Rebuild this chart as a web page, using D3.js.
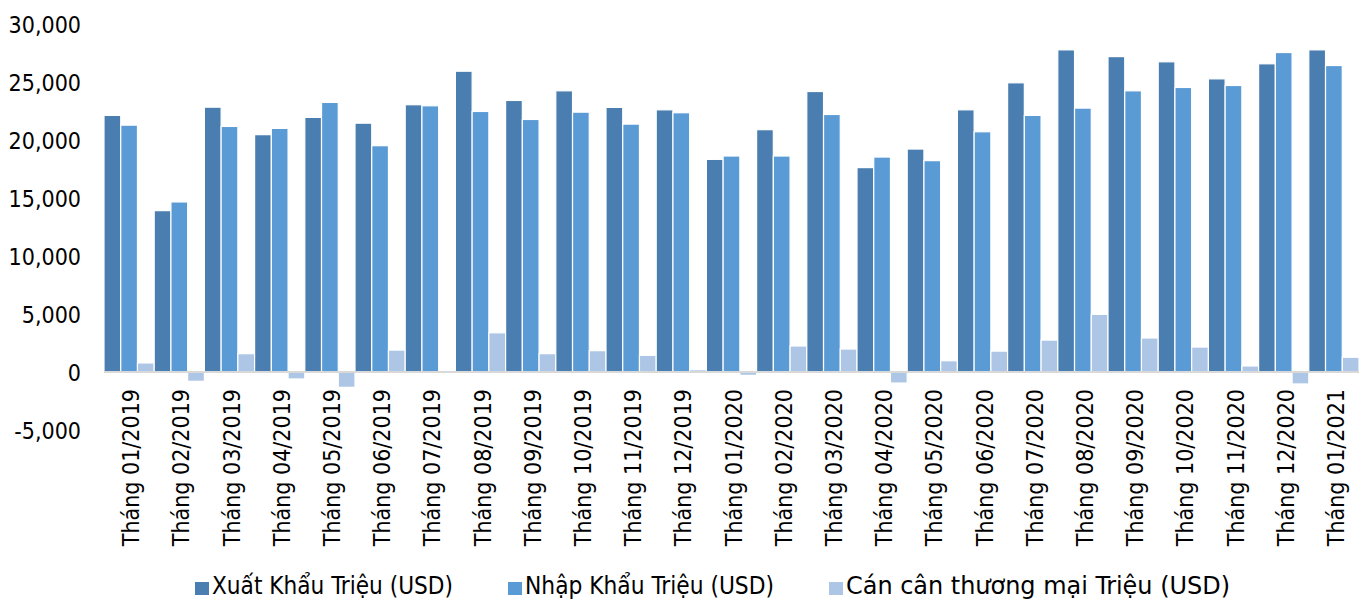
<!DOCTYPE html>
<html>
<head>
<meta charset="utf-8">
<script src="https://cdn.jsdelivr.net/npm/d3@7"></script>
<style>
  html, body { margin: 0; padding: 0; background: #ffffff; }
  svg { display: block; }
  text { font-family: "DejaVu Sans Condensed", "DejaVu Sans", sans-serif; font-stretch: condensed; fill: #000; }
</style>
</head>
<body>
<svg id="chart" width="1364" height="602"></svg>
<script>
// Monthly trade figures, million USD
const months = [
  "Tháng 01/2019", "Tháng 02/2019", "Tháng 03/2019", "Tháng 04/2019", "Tháng 05/2019",
  "Tháng 06/2019", "Tháng 07/2019", "Tháng 08/2019", "Tháng 09/2019", "Tháng 10/2019",
  "Tháng 11/2019", "Tháng 12/2019", "Tháng 01/2020", "Tháng 02/2020", "Tháng 03/2020",
  "Tháng 04/2020", "Tháng 05/2020", "Tháng 06/2020", "Tháng 07/2020", "Tháng 08/2020",
  "Tháng 09/2020", "Tháng 10/2020", "Tháng 11/2020", "Tháng 12/2020", "Tháng 01/2021"
];
const exportsUSD = [22120, 13910, 22830, 20460, 21950, 21450, 23040, 25930, 23410, 24240,
                    22810, 22600, 18330, 20890, 24180, 17620, 19220, 22600, 24930, 27770,
                    27190, 26740, 25270, 26570, 27770];
const importsUSD = [21280, 14660, 21170, 21000, 23240, 19510, 22950, 22460, 21770, 22400,
                    21370, 22350, 18620, 18620, 22200, 18530, 18220, 20710, 22120, 22750,
                    24240, 24530, 24700, 27540, 26420];
const balanceUSD = [780, -800, 1580, -600, -1320, 1890, 90, 3380, 1580, 1840,
                    1440, 200, -290, 2240, 1980, -950, 970, 1800, 2750, 4970,
                    2930, 2150, 520, -1030, 1270];

const seriesNames = ["Xuất Khẩu Triệu (USD)", "Nhập Khẩu Triệu (USD)", "Cán cân thương mại Triệu (USD)"];
const seriesColors = ["#4a7eb0", "#5b9bd5", "#adc6e5"];
const yTicks = [-5000, 0, 5000, 10000, 15000, 20000, 25000, 30000];

const svg = d3.select("#chart");
// thousands separator with a plain hyphen for negatives
const fmt = d3.formatLocale({ decimal: ".", thousands: ",", grouping: [3], currency: ["$", ""], minus: "-" }).format(",");

const x = d3.scaleBand().domain(months).range([104, 1359]).padding(0);
const xInner = d3.scaleBand().domain(d3.range(3)).range([0, x.bandwidth()]).padding(0);
const y = d3.scaleLinear().domain([-5000, 30000]).range([430, 24]);

const rows = months.map((m, i) => ({ m, vals: [exportsUSD[i], importsUSD[i], balanceUSD[i]] }));

// bars
const groups = svg.append("g").selectAll("g").data(rows).join("g")
  .attr("transform", d => `translate(${x(d.m)},0)`);
groups.selectAll("rect").data(d => d.vals.map((v, k) => ({ v, k }))).join("rect")
  .attr("x", d => xInner(d.k))
  .attr("width", xInner.bandwidth())
  .attr("y", d => y(Math.max(0, d.v)))
  .attr("height", d => Math.abs(y(d.v) - y(0)))
  .attr("fill", d => seriesColors[d.k])
  .attr("stroke", "#ffffff")
  .attr("stroke-width", 1.2);

// zero baseline
svg.append("line")
  .attr("x1", 104).attr("x2", 1359)
  .attr("y1", y(0)).attr("y2", y(0))
  .attr("stroke", "#d9d9d9").attr("stroke-width", 2);

// y axis labels
const yAxis = d3.axisLeft(y).tickValues(yTicks).tickFormat(fmt).tickSize(0).tickPadding(0);
const gy = svg.append("g").attr("transform", "translate(81,0)").call(yAxis);
gy.select(".domain").remove();
gy.selectAll("text").attr("font-size", 23).attr("fill", "#000")
  .style("font-family", "\"DejaVu Sans Condensed\", \"DejaVu Sans\", sans-serif")
  .attr("dy", "0.36em");

// x axis labels, rotated
const xAxis = d3.axisBottom(x).tickSize(0).tickPadding(0);
const gx = svg.append("g").attr("transform", `translate(0,${y(0)})`).call(xAxis);
gx.select(".domain").remove();
gx.selectAll("text")
  .attr("font-size", 23).attr("fill", "#000")
  .style("font-family", "\"DejaVu Sans Condensed\", \"DejaVu Sans\", sans-serif")
  .attr("text-anchor", "end")
  .attr("transform", "translate(10,17) rotate(-90)")
  .attr("x", 0).attr("y", 0).attr("dy", 0);

// legend
const legendX = [195, 508, 829];
const legendTextW = [241, 249, 384];
const legend = svg.append("g").selectAll("g").data(seriesNames).join("g")
  .attr("transform", (d, i) => `translate(${legendX[i]},582)`);
legend.append("rect").attr("width", 14).attr("height", 13)
  .attr("fill", (d, i) => seriesColors[i]);
legend.append("text")
  .attr("x", 17).attr("y", 12)
  .attr("font-size", 24)
  .attr("textLength", (d, i) => legendTextW[i])
  .attr("lengthAdjust", "spacingAndGlyphs")
  .text(d => d);
</script>
</body>
</html>
